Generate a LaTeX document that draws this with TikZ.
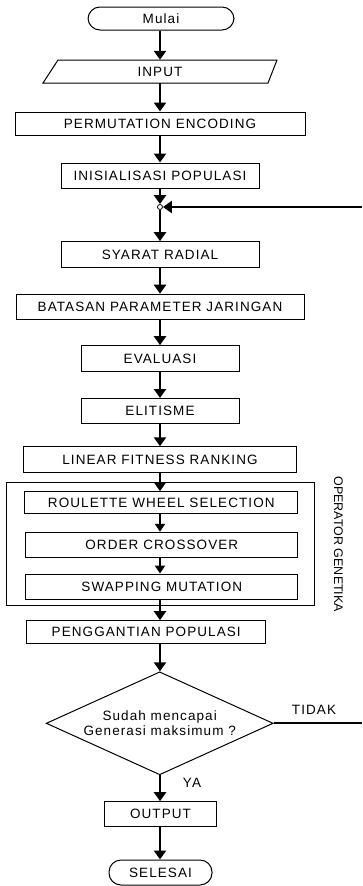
\documentclass[tikz,border=0pt]{standalone}
\usepackage{fontspec}
\setmainfont{Liberation Sans}
\newfontfamily\spaced{Liberation Sans}[LetterSpace=8]
\usetikzlibrary{shapes.geometric,arrows.meta}
\begin{document}
\begin{tikzpicture}[x=1pt,y=1pt,
  box/.style={draw,line width=1pt,rectangle,inner sep=0pt,font=\fontsize{13.5}{16}\spaced},
  term/.style={box,rounded corners=12pt},
  txt/.style={inner sep=0pt,font=\fontsize{13.5}{16}\spaced},
  arr/.style={line width=2.5pt,-{Triangle[width=12pt,length=9pt]}},
  sarr/.style={line width=2.2pt,-{Triangle[width=10pt,length=8pt]}},
  plain/.style={line width=2.2pt}]
\useasboundingbox (0,0) rectangle (362,-886);
\coordinate (axis) at (160,0);
\node[term,minimum width=146pt,minimum height=23pt] (mulai) at (161,-18.5) {Mulai};
\node[txt,minimum width=200pt,minimum height=23pt] (input) at (160,-71.5) {INPUT};
\draw[line width=1pt] (43,-83) -- (268,-83) -- (277,-60) -- (58,-60) -- cycle;
\node[box,minimum width=290pt,minimum height=23pt] (perm) at (160,-123.5) {PERMUTATION ENCODING};
\node[box,minimum width=198pt,minimum height=25pt] (inis) at (160,-175.5) {INISIALISASI POPULASI};
\node[circle,draw,line width=0.8pt,fill=white,inner sep=0pt,minimum size=5pt] (junc) at (160,-207) {};
\node[box,minimum width=198pt,minimum height=26pt] (syarat) at (160,-254.7) {SYARAT RADIAL};
\node[box,minimum width=288pt,minimum height=25pt] (batas) at (160,-306.7) {BATASAN PARAMETER JARINGAN};
\node[box,minimum width=158pt,minimum height=26pt] (eval) at (160,-358.7) {EVALUASI};
\node[box,minimum width=158pt,minimum height=25pt] (elit) at (160,-411) {ELITISME};
\node[box,minimum width=273pt,minimum height=25.5pt] (linear) at (160,-459.5) {LINEAR FITNESS RANKING};
\node[draw,line width=1pt,inner sep=0pt,minimum width=308pt,minimum height=123pt] (group) at (160,-544.2) {};
\node[box,minimum width=272.7pt,minimum height=22.3pt] (roul) at (161.3,-502.8) {ROULETTE WHEEL SELECTION};
\node[box,minimum width=271.7pt,minimum height=25pt] (order) at (161.8,-544.8) {ORDER CROSSOVER};
\node[box,minimum width=271.7pt,minimum height=25.3pt] (swap) at (161.8,-586.7) {SWAPPING MUTATION};
\node[inner sep=0pt,rotate=-90,font=\fontsize{12.5}{14}\selectfont] (opgen) at (338.3,-544.3) {OPERATOR GENETIKA};
\node[box,minimum width=239pt,minimum height=23.3pt] (pengg) at (146.2,-632.3) {PENGGANTIAN POPULASI};
\node[diamond,aspect=2.2,draw,line width=1pt,inner sep=0pt,minimum width=227pt,minimum height=103pt,align=center,font=\fontsize{13.5}{15.7}\spaced] (dec) at (159.7,-723.3) {Sudah mencapai\\Generasi maksimum ?};
\node[txt] (tidak) at (314,-710) {TIDAK};
\node[txt] (ya) at (192,-783) {YA};
\node[box,minimum width=112.4pt,minimum height=25pt] (output) at (160.5,-814.2) {OUTPUT};
\node[term,minimum width=103pt,minimum height=25pt] (selesai) at (160.5,-872.5) {SELESAI};
\coordinate (r1) at (362,-207);
\coordinate (r2) at (362,-723.3);
\draw[arr] (mulai.south -| axis) -- (input.north -| axis);
\draw[arr] (input.south -| axis) -- (perm.north -| axis);
\draw[arr] (perm.south -| axis) -- (inis.north -| axis);
\draw[arr] (inis.south -| axis) -- (junc.north);
\draw[arr] (r1) -- (junc.east);
\draw[arr] (junc.south) -- (syarat.north -| axis);
\draw[arr] (syarat.south -| axis) -- (batas.north -| axis);
\draw[arr] (batas.south -| axis) -- (eval.north -| axis);
\draw[arr] (eval.south -| axis) -- (elit.north -| axis);
\draw[arr] (elit.south -| axis) -- (linear.north -| axis);
\draw[arr] (linear.south -| axis) -- (roul.north -| axis);
\draw[sarr] (roul.south -| axis) -- (order.north -| axis);
\draw[sarr] (order.south -| axis) -- (swap.north -| axis);
\draw[arr] (swap.south -| axis) -- (pengg.north -| axis);
\draw[arr] (pengg.south -| axis) -- (dec.north -| axis);
\draw[plain] (dec.east) -- (r2);
\draw[arr] (dec.south -| axis) -- (output.north -| axis);
\draw[arr] (output.south -| axis) -- (selesai.north -| axis);
\end{tikzpicture}
\end{document}
